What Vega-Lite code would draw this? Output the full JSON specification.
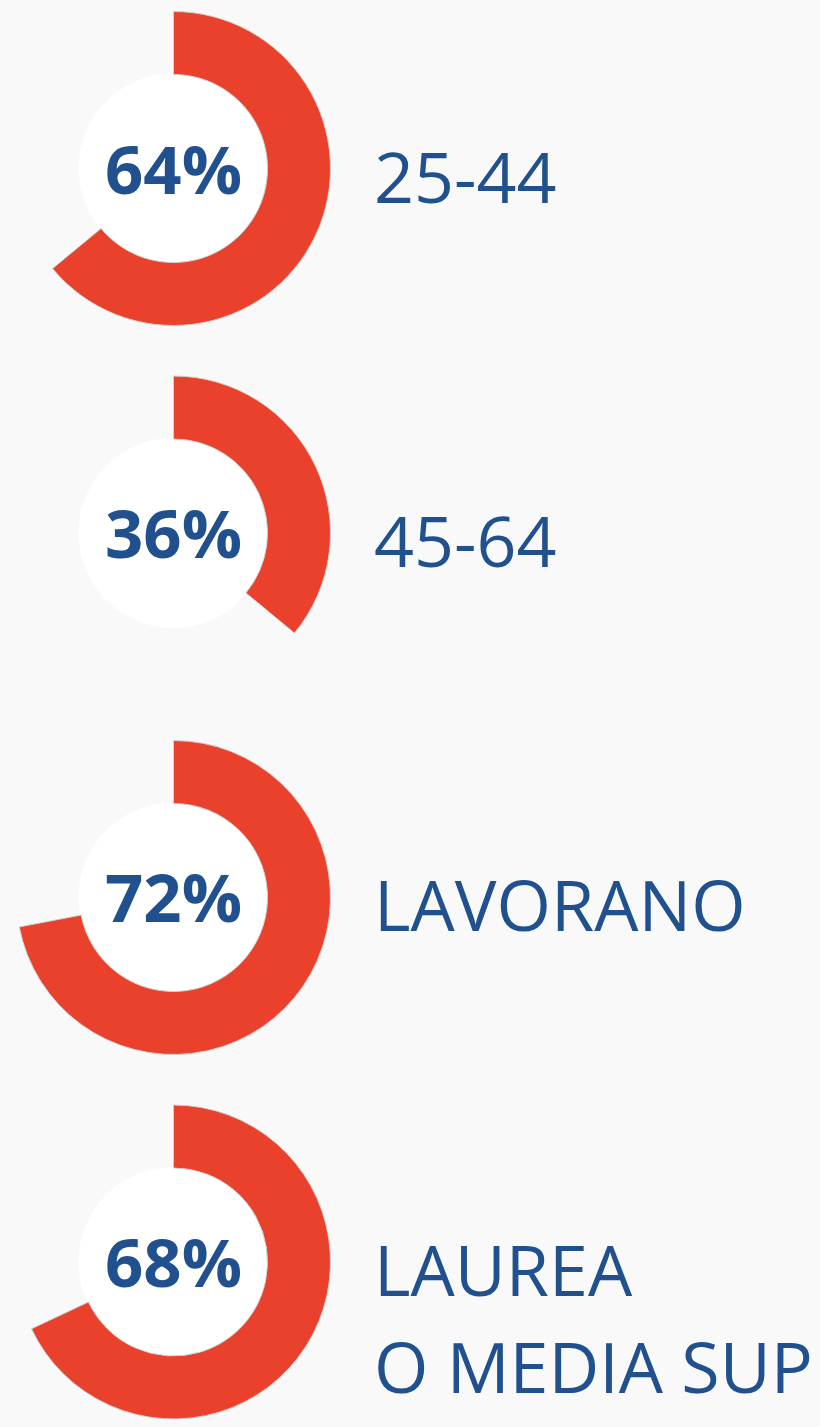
{
  "$schema": "https://vega.github.io/schema/vega-lite/v6.json",
  "width": 820,
  "height": 1427,
  "autosize": {"type": "none"},
  "padding": 0,
  "background": "#f9f9f9",
  "config": {"view": {"stroke": null}},
  "data": {
    "values": [
      {"row": 0, "pct": 0.64, "label": "25-44"},
      {"row": 1, "pct": 0.36, "label": "45-64"},
      {"row": 2, "pct": 0.72, "label": "LAVORANO"},
      {"row": 3, "pct": 0.68, "label": "LAUREA\nO MEDIA SUP"}
    ]
  },
  "encoding": {
    "y": {
      "field": "row",
      "type": "quantitative",
      "stack": null,
      "scale": {"domain": [-0.4623, 3.4527], "reverse": true, "nice": false, "zero": false},
      "axis": null
    }
  },
  "layer": [
    {
      "mark": {"type": "circle", "size": 36100, "color": "#ffffff", "opacity": 1, "strokeWidth": 0},
      "encoding": {
        "x": {"datum": 0, "type": "quantitative", "scale": {"domain": [-0.8653, 3.2244], "nice": false, "zero": false}, "axis": null}
      }
    },
    {
      "mark": {"type": "arc", "innerRadius": 94, "outerRadius": 157, "color": "#E9412B", "stroke": "#d2d2d2", "strokeWidth": 1},
      "encoding": {
        "x": {"datum": 0, "type": "quantitative"},
        "theta": {"field": "pct", "type": "quantitative", "scale": {"domain": [0, 1], "range": [0, 6.283185307]}},
        "theta2": {"datum": 0}
      }
    },
    {
      "mark": {"type": "text", "font": "Open Sans", "fontWeight": "bold", "fontSize": 67, "align": "center", "baseline": "alphabetic", "dy": 25, "color": "#21508F"},
      "encoding": {
        "x": {"datum": 0, "type": "quantitative"},
        "text": {"field": "pct", "type": "quantitative", "format": ".0%"}
      }
    },
    {
      "mark": {"type": "text", "font": "Open Sans", "fontSize": 70, "align": "left", "baseline": "alphabetic", "dy": 34, "lineBreak": "\n", "lineHeight": 97, "color": "#21508F"},
      "encoding": {
        "x": {"datum": 1, "type": "quantitative"},
        "text": {"field": "label", "type": "nominal"}
      }
    }
  ]
}
